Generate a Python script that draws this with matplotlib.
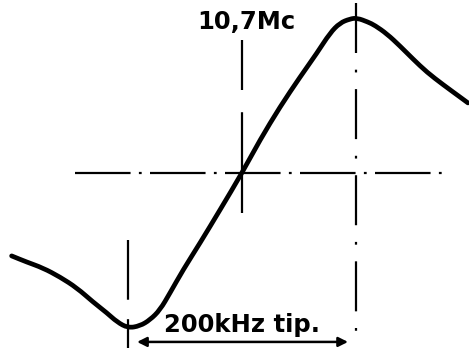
import matplotlib
matplotlib.use("Agg")
import matplotlib.pyplot as plt
from matplotlib.path import Path
from matplotlib.patches import PathPatch

# discriminator S-curve, x = detuning from 10.7 Mc in kHz, y = relative output
freq_khz = [-202, -189, -174.5, -159.6, -144.7, -130.7, -118.4, -109.6, -100,
            -89.5, -80.7, -71.9, -63.1, -51.7, -36.8, -19.3, 0, 15.8, 33.3,
            50.9, 65.8, 77.2, 85.9, 94.7, 100.9, 110.5, 116.6, 127.2, 138.6,
            150, 162.2, 176.3, 191.2, 198.2]
output = [-0.535, -0.574, -0.613, -0.671, -0.742, -0.832, -0.903, -0.961, -1.0,
          -0.987, -0.948, -0.884, -0.774, -0.626, -0.452, -0.239, 0, 0.213, 0.426,
          0.619, 0.774, 0.903, 0.968, 0.994, 1.0, 0.974, 0.952, 0.897, 0.819,
          0.735, 0.650, 0.570, 0.490, 0.452]

# centre lines (dash-dot)
h_line_x = [-146.5, 178]
centre_v_y = [0.858, -0.258]
peak_v_y = [1.097, -1.123]
trough_v_y = [-0.432, -1.129]
peak_khz = 100
trough_khz = -100

span_y = -1.09
span_x = [-92, 93]
span_label = "200kHz tip."
centre_label = "10,7Mc"


def smooth_path(xs, ys):
    # quadratic bezier through midpoints, read points act as control points
    pts = list(zip(xs, ys))
    verts = [pts[0]]
    codes = [Path.MOVETO]
    mid = lambda a, b: ((a[0] + b[0]) / 2, (a[1] + b[1]) / 2)
    verts.append(mid(pts[0], pts[1]))
    codes.append(Path.LINETO)
    for i in range(1, len(pts) - 1):
        verts += [pts[i], mid(pts[i], pts[i + 1])]
        codes += [Path.CURVE3, Path.CURVE3]
    verts.append(pts[-1])
    codes.append(Path.LINETO)
    return Path(verts, codes)


plt.rcParams['lines.scale_dashes'] = False
fig = plt.figure(figsize=(4.69, 3.52), dpi=100)
ax = fig.add_axes([0, 0, 1, 1])
ax.set_xlim(-212.2, 199.1)
ax.set_ylim(-1.155, 1.116)
ax.axis('off')

dd = (0, (40, 6, 2, 6))
ax.plot(h_line_x, [0, 0], color='black', lw=1.6, linestyle=dd)
ax.plot([0, 0], centre_v_y, color='black', lw=1.6, linestyle=(0, (36, 16, 80, 20)))
ax.plot([peak_khz, peak_khz], peak_v_y, color='black', lw=1.6, linestyle=(0, (36, 12, 2, 12)))
ax.plot([trough_khz, trough_khz], trough_v_y, color='black', lw=1.6, linestyle=(0, (43, 14, 100)))

ax.add_patch(PathPatch(smooth_path(freq_khz, output), facecolor='none',
                       edgecolor='black', lw=3.4, joinstyle='round', capstyle='round'))

ax.annotate('', xy=(span_x[0], span_y), xytext=(span_x[1], span_y),
            arrowprops=dict(arrowstyle='<|-|>', color='black', lw=1.8,
                            mutation_scale=14, shrinkA=0, shrinkB=0))
ax.text(0, -1.026, span_label, ha='center', va='baseline', fontsize=17.5,
        fontweight='bold', family='DejaVu Sans')
ax.text(4, 0.929, centre_label, ha='center', va='baseline', fontsize=17.5,
        fontweight='bold', family='DejaVu Sans')

fig.savefig('out.png', dpi=100, facecolor='white')
